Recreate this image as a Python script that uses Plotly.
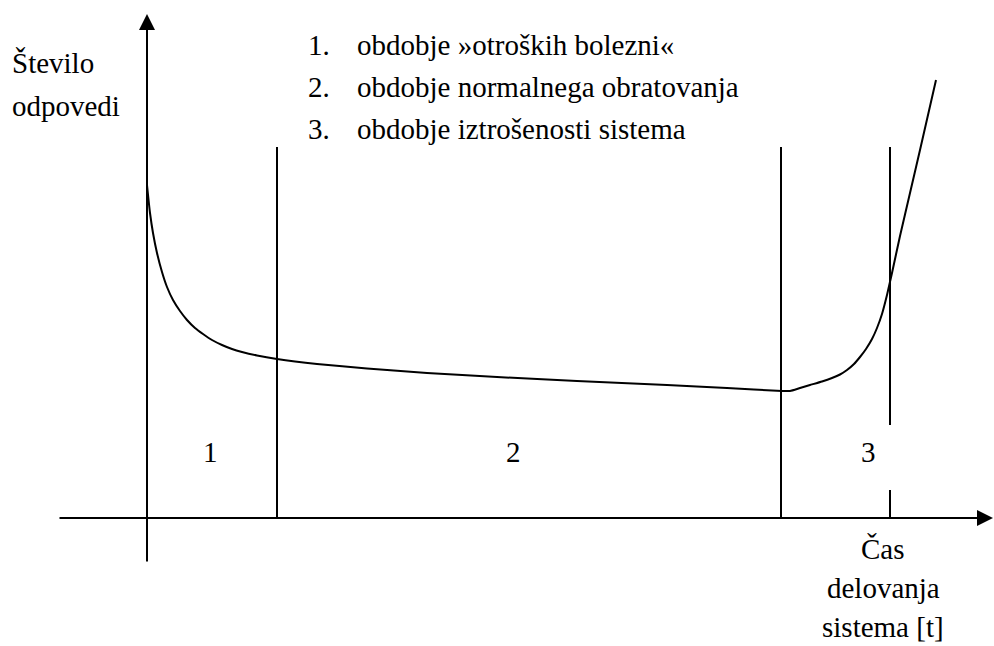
import plotly.graph_objects as go

# Bathtub curve: number of failures vs. operating time (arbitrary units)
t_curve = [0.0, 0.3, 0.6, 1.0, 1.5, 2.0, 2.6, 3.3, 4.0, 4.8, 5.6, 6.5, 7.5, 8.5, 9.5, 11.0, 13.0,
           17.0, 22.0, 28.0, 35.0, 43.0, 52.0, 58.0, 63.5,
           64.3, 65.3, 66.3, 67.5, 68.5, 69.3, 70.0, 70.7, 71.3, 71.9, 72.5, 73.0, 73.5,
           74.0, 74.5, 75.3, 76.3, 77.3, 78.9]
n_curve = [33.3, 30.5, 28.5, 26.5, 24.6, 23.1, 21.8, 20.7, 19.8, 19.0, 18.4, 17.8, 17.3, 16.9, 16.6, 16.25, 15.9,
           15.4, 14.95, 14.5, 14.1, 13.7, 13.3, 13.0, 12.7,
           12.7, 13.0, 13.3, 13.65, 14.0, 14.35, 14.8, 15.4, 16.1, 16.9, 17.9, 19.0, 20.4,
           22.3, 24.5, 28.2, 32.5, 36.8, 43.8]

# Period boundaries on the time axis
period_bounds = [13.0, 63.4, 74.3]
period_labels = ["1", "2", "3"]
period_label_t = [6.3, 36.6, 72.1]

legend_items = ["obdobje »otroških bolezni«",
                "obdobje normalnega obratovanja",
                "obdobje iztrošenosti sistema"]

y_title = ["Število", "odpovedi"]
x_title = ["Čas", "delovanja", "sistema [t]"]
x_title_v = [-3.1, -7.0, -10.9]

FONT = dict(family="Liberation Serif", size=29, color="black")
LW = 2

fig = go.Figure()

# failure-rate curve
fig.add_trace(go.Scatter(x=t_curve, y=n_curve, mode="lines",
                         line=dict(color="black", width=LW, shape="spline", smoothing=0.5),
                         hoverinfo="skip", showlegend=False))

# period boundary lines
top = 37.1
for i, tb in enumerate(period_bounds):
    if i < 2:
        fig.add_shape(type="line", x0=tb, x1=tb, y0=0, y1=top,
                      line=dict(color="black", width=LW))
    else:
        # last boundary leaves room for its period label
        fig.add_shape(type="line", x0=tb, x1=tb, y0=9.3, y1=top,
                      line=dict(color="black", width=LW))
        fig.add_shape(type="line", x0=tb, x1=tb, y0=0, y1=2.8,
                      line=dict(color="black", width=LW))

# axes with arrowheads
fig.add_annotation(x=84.6, y=0, ax=-8.9, ay=0, axref="x", ayref="y", xref="x", yref="y",
                   text="", showarrow=True, arrowhead=2, arrowsize=1.6, arrowwidth=LW,
                   arrowcolor="black")
fig.add_annotation(x=0, y=50.4, ax=0, ay=-4.5, axref="x", ayref="y", xref="x", yref="y",
                   text="", showarrow=True, arrowhead=2, arrowsize=1.6, arrowwidth=LW,
                   arrowcolor="black")

# period numbers
for lab, tl in zip(period_labels, period_label_t):
    fig.add_annotation(x=tl, y=6.6, text=lab, showarrow=False, font=FONT,
                       xanchor="center", yanchor="middle")

# numbered list of periods
for i, item in enumerate(legend_items):
    yv = 47.3 - 4.2 * i
    fig.add_annotation(x=15.9, y=yv, text=f"{i + 1}.", showarrow=False, font=FONT,
                       xanchor="left", yanchor="middle")
    fig.add_annotation(x=20.8, y=yv, text=item, showarrow=False, font=FONT,
                       xanchor="left", yanchor="middle")

# axis titles
for i, line in enumerate(y_title):
    fig.add_annotation(x=-13.7, y=45.5 - 4.3 * i, text=line, showarrow=False, font=FONT,
                       xanchor="left", yanchor="middle")
for line, yv in zip(x_title, x_title_v):
    fig.add_annotation(x=73.6, y=yv, text=line, showarrow=False, font=FONT,
                       xanchor="center", yanchor="middle")

fig.update_layout(
    width=994, height=646,
    margin=dict(l=0, r=0, t=0, b=0),
    paper_bgcolor="white", plot_bgcolor="white",
    xaxis=dict(range=[-14.7, 84.7], visible=False, fixedrange=True),
    yaxis=dict(range=[-12.8, 51.8], visible=False, fixedrange=True),
    showlegend=False,
)

fig.write_html("out.html")
